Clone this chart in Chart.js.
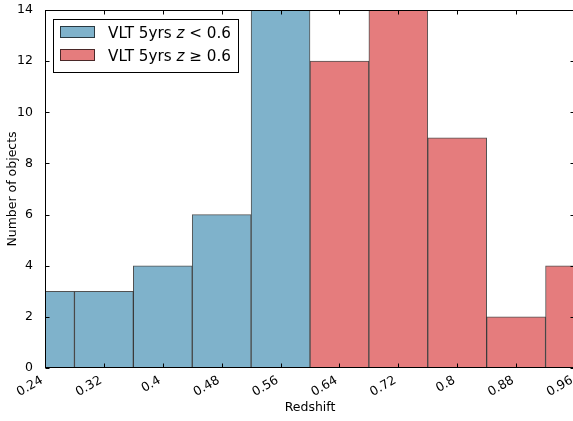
<!DOCTYPE html>
<html>
<head>
<meta charset="utf-8">
<script src="https://cdn.jsdelivr.net/npm/chart.js@4"></script>
<style>
  html, body { margin: 0; padding: 0; overflow: hidden; background: #fff; }
</style>
</head>
<body>
<canvas id="hist" width="576" height="421"></canvas>
<script>
// histogram bins (centre of bin, width 0.08)
var lowZCenters = [0.24, 0.32, 0.40, 0.48, 0.56];
var lowZCounts = [3, 3, 4, 6, 14];
var highZCenters = [0.64, 0.72, 0.80, 0.88, 0.96];
var highZCounts = [12, 14, 9, 2, 4];

var xTickValues = [0.24, 0.32, 0.40, 0.48, 0.56, 0.64, 0.72, 0.80, 0.88, 0.96];
var xTickLabels = ["0.24", "0.32", "0.4", "0.48", "0.56", "0.64", "0.72", "0.8", "0.88", "0.96"];
var yTickValues = [0, 2, 4, 6, 8, 10, 12, 14];
var yTickLabels = ["0", "2", "4", "6", "8", "10", "12", "14"];

var legendLabels = [
  ["VLT 5yrs ", "z", " < 0.6"],
  ["VLT 5yrs ", "z", " \u2265 0.6"]
];

var FONT = "DejaVu Sans";
var BLUE = "#7fb2cb";
var RED = "#e57c7d";
var EDGE = "rgba(0,0,0,0.68)";

function points(xs, ys) {
  return xs.map(function (x, i) { return { x: x, y: ys[i] }; });
}

// spines with inward ticks, plus the legend box
var framePlugin = {
  id: "frame",
  afterDatasetsDraw: function (chart) {
    var ctx = chart.ctx, a = chart.chartArea;
    var xs = chart.scales.x, ys = chart.scales.y;
    var L = Math.round(a.left) + 0.5, R = Math.round(a.right) - 0.5;
    var T = Math.round(a.top) + 0.5, B = Math.round(a.bottom) - 0.5;
    ctx.save();
    ctx.strokeStyle = "#000";
    ctx.lineWidth = 1;
    ctx.strokeRect(L, T, R - L, B - T);
    ctx.beginPath();
    xTickValues.forEach(function (v) {
      var px = Math.round(xs.getPixelForValue(v)) + 0.5;
      ctx.moveTo(px, B); ctx.lineTo(px, B - 4);
      ctx.moveTo(px, T); ctx.lineTo(px, T + 4);
    });
    yTickValues.forEach(function (v) {
      var py = Math.round(ys.getPixelForValue(v)) + 0.5;
      ctx.moveTo(L, py); ctx.lineTo(L + 4, py);
      ctx.moveTo(R, py); ctx.lineTo(R - 4, py);
    });
    ctx.stroke();

    // legend
    var bx = 53.5, by = 19.5, bw = 185, bh = 53;
    ctx.fillStyle = "#fff";
    ctx.fillRect(bx, by, bw, bh);
    ctx.strokeRect(bx, by, bw, bh);
    var colors = [BLUE, RED];
    legendLabels.forEach(function (parts, i) {
      var py = 26 + i * 23;
      ctx.fillStyle = colors[i];
      ctx.fillRect(60, py, 35, 12);
      ctx.strokeStyle = EDGE;
      ctx.strokeRect(60.5, py + 0.5, 34, 11);
      ctx.fillStyle = "#000";
      ctx.textBaseline = "alphabetic";
      ctx.textAlign = "left";
      var tx = 108, ty = py + 12;
      parts.forEach(function (p, k) {
        ctx.font = (k === 1 ? "italic " : "") + "15.2px '" + FONT + "'";
        ctx.fillText(p, tx, ty);
        tx += ctx.measureText(p).width;
      });
    });
    ctx.restore();
  }
};

new Chart(document.getElementById("hist"), {
  type: "bar",
  data: {
    datasets: [
      { label: "low z", data: points(lowZCenters, lowZCounts), backgroundColor: BLUE,
        borderColor: EDGE, borderWidth: 1, grouped: false, barPercentage: 1, categoryPercentage: 1, clip: 0 },
      { label: "high z", data: points(highZCenters, highZCounts), backgroundColor: RED,
        borderColor: EDGE, borderWidth: 1, grouped: false, barPercentage: 1, categoryPercentage: 1, clip: 0 }
    ]
  },
  options: {
    responsive: false,
    animation: false,
    devicePixelRatio: 1,
    layout: { padding: { top: 10, right: 1, left: 0, bottom: 0 } },
    plugins: { legend: { display: false }, tooltip: { enabled: false } },
    scales: {
      x: {
        type: "linear", min: 0.24, max: 0.96, offset: false,
        grid: { display: false }, border: { display: false },
        afterBuildTicks: function (s) { s.ticks = xTickValues.map(function (v) { return { value: v }; }); },
        ticks: {
          autoSkip: false, minRotation: 30, maxRotation: 30, padding: -3, labelOffset: -3, color: "#000",
          font: { family: FONT, size: 12.5 },
          callback: function (v, i) { return xTickLabels[i]; }
        },
        title: { display: true, text: "Redshift", color: "#000", font: { family: FONT, size: 12.5 }, padding: { top: 0, bottom: 5.5 } },
        afterFit: function (s) { s.height = 53; s.paddingLeft = 0; s.paddingRight = 0; }
      },
      y: {
        min: 0, max: 14,
        grid: { display: false }, border: { display: false },
        afterBuildTicks: function (s) { s.ticks = yTickValues.map(function (v) { return { value: v }; }); },
        ticks: {
          padding: 4, color: "#000", font: { family: FONT, size: 12.5 },
          callback: function (v, i) { return yTickLabels[i]; }
        },
        title: { display: true, text: "Number of objects", color: "#000", font: { family: FONT, size: 12.5 }, padding: { top: 5.5, bottom: 0 } },
        afterFit: function (s) { s.width = 45; s.paddingTop = 0; s.paddingBottom = 0; }
      }
    }
  },
  plugins: [framePlugin]
});
</script>
</body>
</html>
